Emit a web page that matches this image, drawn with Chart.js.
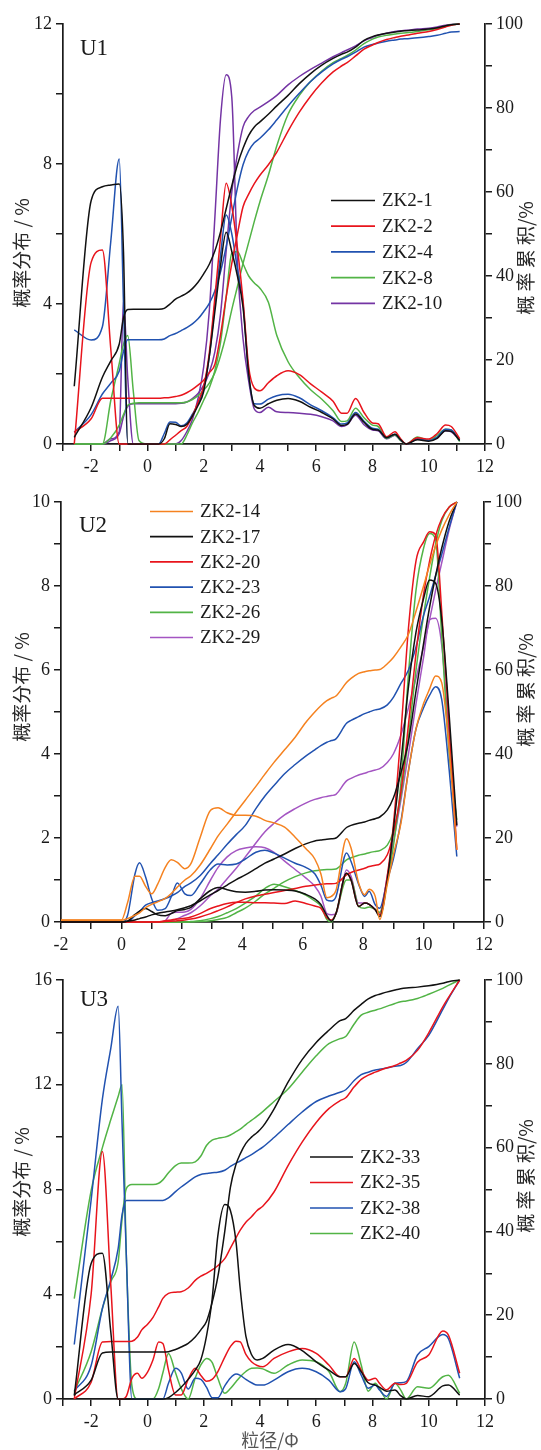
<!DOCTYPE html>
<html><head><meta charset="utf-8">
<script src="https://cdn.jsdelivr.net/npm/chart.js@4.4.1/dist/chart.umd.min.js"></script>
<style>
html,body{margin:0;padding:0;background:#fff;}
body{width:541px;height:1450px;position:relative;overflow:hidden;}
canvas{position:absolute;left:0;}
</style></head>
<body>
<canvas id="c1" width="541" height="480" style="top:0px;width:541px;height:480px"></canvas>
<canvas id="c2" width="541" height="480" style="top:480px;width:541px;height:480px"></canvas>
<canvas id="c3" width="541" height="490" style="top:960px;width:541px;height:490px"></canvas>
<script>
// ---------------- DATA ----------------
// U1 panel
const U1_X = [-2.6,-2,-1.6,-1.3,-1,-0.85,-0.7,-0.5,-0.3,0,0.4,0.6,0.8,1,1.2,1.4,1.6,1.8,2,2.2,2.4,2.6,2.8,3,3.2,3.4,3.6,3.8,4,4.3,4.6,5,5.4,5.8,6.2,6.6,6.9,7.1,7.4,7.7,8,8.2,8.5,8.8,9,9.2,9.6,10,10.3,10.6,10.8,11.1];
const ZK2_1_DIST = [1.65,6.95,7.35,7.4,7.43,5.5,0,0,0,0,0,0.15,0.58,0.56,0.5,0.56,0.8,1.1,1.5,2.5,3.8,5.1,6.05,5.5,4.8,3.9,2.0,1.1,1.02,1.15,1.25,1.3,1.22,1.05,0.9,0.72,0.53,0.56,0.86,0.62,0.42,0.4,0.18,0.28,0.12,0,0.12,0.08,0.16,0.38,0.36,0.1];
const ZK2_1_CUM = [1.6,8.7,15.9,19.8,23.8,30,32,32.1,32.1,32.1,32.1,32.3,33.3,34.5,35.2,35.9,37,38.5,40.5,42.8,46,50.5,56,61.5,66.5,70.4,73.5,75.5,76.7,78.5,80.5,83,85.8,88.2,90.2,91.8,92.8,93.3,94.5,96.1,97,97.4,97.8,98.1,98.3,98.4,98.6,98.8,99.1,99.6,99.8,100];
const ZK2_2_DIST = [0,5.19,5.54,2.7,0,0,0,0,0,0,0,0,0.12,0.25,0.38,0.5,0.8,1.2,1.65,2.6,4.2,5.9,7.45,6.8,5.6,4.1,2.2,1.6,1.52,1.75,1.95,2.09,1.98,1.72,1.48,1.22,0.88,0.88,1.3,0.9,0.6,0.58,0.21,0.35,0.15,0,0.18,0.14,0.3,0.54,0.5,0.15];
const ZK2_2_CUM = [2.8,6,10.9,10.9,10.9,10.9,10.9,10.9,10.9,10.9,10.9,11,11.1,11.3,11.6,12.2,13,14,15.2,17,19,26,35,43,50,56.5,59.5,62,64,66.5,69.5,74.5,79,82.8,86,88.6,90,90.8,92.4,94,95,95.6,96.3,96.8,97.1,97.3,97.8,98.2,98.7,99.3,99.7,100];
const ZK2_4_DIST = [3.26,2.97,3.35,5.8,8.14,4.0,0,0,0,0,0,0.3,0.63,0.62,0.52,0.6,0.85,1.15,1.6,2.5,4.0,5.4,6.54,6.0,5.0,4.0,2.0,1.15,1.14,1.28,1.38,1.42,1.32,1.12,0.95,0.75,0.57,0.6,0.9,0.65,0.45,0.42,0.18,0.28,0.12,0,0.14,0.1,0.2,0.42,0.4,0.1];
const ZK2_4_CUM = [2.8,7,11.9,14.5,17.4,22,24.8,24.8,24.8,24.8,24.8,25,25.8,26.3,27,27.7,28.6,29.8,31.5,33.5,36.5,41,47,54,61,66.5,69.8,71.7,72.8,74.8,77.2,80.5,83.5,86.3,88.6,90.5,91.6,92.2,93.3,94.5,95.1,95.5,95.9,96.2,96.4,96.5,96.7,97,97.3,97.8,98.1,98.2];
const ZK2_8_DIST = [0,0,0,1.25,2.3,2.85,3.1,1.5,0.1,0,0,0,0,0,0,0.25,0.6,0.9,1.25,1.6,2.1,2.9,4.2,5.45,5.5,5.15,4.8,4.6,4.45,4.05,3.1,2.35,1.9,1.55,1.28,0.95,0.64,0.66,1.02,0.75,0.54,0.5,0.16,0.26,0.1,0,0.2,0.1,0.25,0.42,0.4,0.07];
const ZK2_8_CUM = [0,0,0,1.5,4.5,7,9.2,9.7,9.8,9.8,9.8,9.8,9.8,9.8,9.8,10,10.6,11.5,12.8,14.5,17,21,26,32,37.5,43,48,53,57.7,64,71,78.5,83,86.3,88.8,90.8,91.8,92.5,93.8,95.3,96.4,96.9,97.3,97.6,97.8,97.9,98.2,98.6,99,99.5,99.8,100];
const ZK2_10_DIST = [0,0,0,0.15,0.35,4.1,1.9,0,0,0,0,0,0,0,0.1,0.35,0.7,1.3,2.2,3.8,6.5,9.3,10.55,9.9,5.2,3.0,1.8,1.0,0.9,1.05,0.92,0.9,0.88,0.85,0.78,0.66,0.5,0.55,0.82,0.55,0.4,0.38,0.15,0.25,0.1,0,0.15,0.1,0.18,0.38,0.35,0.1];
const ZK2_10_CUM = [0,0,0,0.8,2.5,6.5,9,9.6,9.6,9.6,9.6,9.6,9.6,9.6,9.7,10,10.8,12,14,17,22,31,46,60,69,75.5,78,79.4,80.2,81.5,83,85.5,87.5,89.2,90.7,92.2,93.2,93.8,94.8,96,96.8,97.3,97.8,98.2,98.4,98.5,98.8,99,99.3,99.7,99.9,100];

// U2 panel
const U2_X = [-2,0,0.2,0.45,0.6,0.8,1,1.2,1.45,1.65,1.85,2.1,2.3,2.6,2.95,3.2,3.5,3.8,4.1,4.45,4.75,5.05,5.4,5.75,6.1,6.4,6.6,6.8,6.95,7.1,7.45,7.6,7.85,8.05,8.2,8.4,8.55,8.8,9,9.25,9.5,9.75,10,10.2,10.4,10.6,10.85,11.1];
const ZK2_14_DIST = [0.05,0.05,0.45,1.09,1.09,0.85,0.67,0.9,1.3,1.48,1.42,1.27,1.39,2.0,2.66,2.72,2.6,2.54,2.54,2.52,2.42,2.36,2.26,2.02,1.75,1.5,1.15,0.58,0.61,0.75,1.98,1.76,0.93,0.65,0.78,0.61,0.06,0.9,1.6,2.35,3.6,4.6,5.2,5.55,5.86,5.7,4.1,1.72];
const ZK2_14_CUM = [0.4,0.4,0.8,1.6,2.2,3.4,4.2,4.8,5.6,6.8,8.3,10,11,13.5,17.5,20.5,23.3,26.2,29,32.3,35.2,38,41,44,47.5,50,51.5,52.7,53.3,53.8,57,58,59.2,59.6,59.8,60,60.1,61.5,63,65.5,68.5,74,80,85,89.5,93.3,97,100];
const ZK2_17_DIST = [0,0,0.02,0.18,0.26,0.32,0.25,0.17,0.15,0.2,0.27,0.3,0.35,0.55,0.75,0.82,0.77,0.72,0.71,0.73,0.76,0.77,0.76,0.74,0.66,0.55,0.42,0.15,0.02,0.2,1.16,1.0,0.37,0.45,0.42,0.29,0.13,1.0,2.2,3.8,5.6,6.9,7.7,8.14,8.06,7.2,4.9,2.3];
const ZK2_17_CUM = [0,0,0.2,0.5,0.8,1.2,1.7,2.1,2.4,2.6,2.9,3.4,3.9,5,6.5,7.5,8.8,10.1,11.2,12.7,14,15,16.2,17.5,18.6,19.3,19.5,19.7,19.8,20,22.5,23,23.5,23.8,24.2,24.6,25,26.7,29.5,35.5,43,55,66.3,75,82.5,89,95.5,100];
const ZK2_20_DIST = [0,0,0,0,0,0,0,0,0.03,0.05,0.07,0.09,0.12,0.2,0.32,0.38,0.44,0.47,0.47,0.46,0.46,0.45,0.44,0.5,0.44,0.38,0.33,0.1,0.05,0.2,1.16,1.0,0.37,0.45,0.42,0.29,0.17,1.1,2.3,4.5,7.0,8.6,9.05,9.29,9.22,7.4,4.6,1.72];
const ZK2_20_CUM = [0,0,0,0,0,0,0,0,0.1,0.2,0.3,0.5,0.7,1.2,2.0,2.7,3.6,4.6,5.5,6.2,6.6,7.0,7.5,8.0,8.5,8.8,9.0,9.1,9.1,9.2,11.2,11.8,12.4,12.8,13.2,13.5,13.8,16,21,31,47,64,78,86,92,96,98.8,100];
const ZK2_23_DIST = [0,0,0.15,1.15,1.41,1.07,0.56,0.28,0.32,0.6,0.93,0.67,0.63,0.9,1.25,1.38,1.36,1.38,1.5,1.66,1.71,1.64,1.52,1.4,1.3,1.15,0.88,0.52,0.5,0.6,1.64,1.44,0.9,0.61,0.73,0.41,0.33,1.0,1.5,2.4,3.6,4.6,5.1,5.4,5.6,5.3,3.6,1.56];
const ZK2_23_CUM = [0,0,0.1,1.5,2.5,4.0,4.6,5.0,5.6,6.2,7.0,8.5,9.3,11,14,16,18.5,20.8,23,27,30,32.5,35.3,37.5,39.5,41,42,42.8,43.2,43.6,47.3,48,48.9,49.6,50,50.5,50.7,51.7,53.5,56.8,60,65.5,73,77.5,82.5,87.5,94,100];
const ZK2_26_DIST = [0,0,0,0,0,0,0,0,0,0,0,0,0.01,0.03,0.08,0.13,0.22,0.32,0.45,0.62,0.8,0.9,0.84,0.75,0.64,0.5,0.38,0.06,0,0.2,1.0,1.0,0.37,0.33,0.36,0.3,0.23,1.0,1.8,3.3,5.9,7.9,8.9,9.25,9.1,6.8,4.0,2.43];
const ZK2_26_CUM = [0,0,0,0,0,0,0,0,0,0,0,0,0.05,0.1,0.3,0.6,1.1,2.2,3.3,5,6.7,8,9.6,10.8,11.7,12.2,12.4,12.5,12.5,12.6,14.8,15.3,15.9,16.2,16.5,16.8,17,18.3,21.5,30,44,60,73,82,90,95.5,98.8,100];
const ZK2_29_DIST = [0,0,0,0,0,0,0,0,0.03,0.21,0.23,0.24,0.3,0.55,1.0,1.3,1.55,1.7,1.76,1.79,1.77,1.66,1.45,1.25,1.05,0.85,0.62,0.2,0.17,0.2,1.24,1.09,0.45,0.45,0.42,0.3,0.21,1.1,1.9,2.9,4.0,5.2,6.3,7.2,7.23,6.6,4.4,2.27];
const ZK2_29_CUM = [0,0,0,0,0,0,0,0,0,0.3,0.8,1.6,2.2,3.8,6.3,7.8,10.3,12.8,15.5,18.8,21.5,23.5,25.5,27,28.3,29.2,29.6,29.9,30.1,30.4,33.6,34.2,35,35.4,35.8,36.2,36.5,38,40,44.5,51,58,65.5,72,79,85.5,93.5,100];

// U3 panel
const U3_X = [-2.6,-2,-1.6,-1.3,-1.04,-0.9,-0.75,-0.55,-0.35,-0.2,0,0.2,0.4,0.55,0.75,1,1.2,1.45,1.7,1.9,2.1,2.3,2.5,2.75,2.95,3.15,3.3,3.5,3.7,3.9,4.1,4.5,5,5.5,6,6.45,6.85,7.05,7.35,7.6,7.85,8.1,8.25,8.5,8.8,9,9.2,9.6,10,10.5,10.7,11.1];
const ZK2_33_DIST = [0.13,5.17,5.57,2.55,0,0,0,0,0,0,0,0,0,0,0.05,0.25,0.45,0.75,1.1,1.5,2.4,3.8,6.2,7.43,7.2,6.0,4.2,2.4,1.7,1.49,1.55,1.87,2.08,1.85,1.42,1.1,0.85,0.85,1.36,1.04,0.62,0.53,0.45,0.3,0.34,0.13,0,0.13,0.09,0.5,0.53,0.15];
const ZK2_33_CUM = [1.0,4.5,11,11.2,11.2,11.2,11.2,11.2,11.2,11.2,11.2,11.2,11.2,11.2,11.3,11.8,12.4,13.3,14.8,16.5,18.5,23,29,40,50.5,56,58.5,61,62.5,63.6,65,69.2,75.6,81,85.1,88,90.3,90.8,92.8,94.2,95.5,96.3,96.6,97.1,97.6,97.9,98.1,98.3,98.6,99.2,99.6,100];
const ZK2_35_DIST = [0,4.0,9.45,4.33,0,0,0.1,0.79,0.98,0.79,1.02,1.5,2.18,2.12,1.1,0.15,0.15,0.75,1.17,0.9,0.68,0.75,1.04,1.6,2.0,2.21,2.18,1.7,1.42,1.28,1.23,1.55,1.8,1.93,1.74,1.3,0.85,0.85,1.55,1.1,0.72,0.79,0.6,0.35,0.6,0.55,0.6,1.4,1.68,2.6,2.44,0.98];
const ZK2_35_CUM = [0,4,13.6,13.7,13.7,13.7,13.7,13.8,14.8,16.5,17.8,19.5,22,24,25.2,25.5,25.6,26.5,28.3,29.3,30,30.8,31.8,33.5,36,38.5,40.3,42.2,43.5,45,46,49.4,55.7,61.3,66,69.3,71.2,71.9,74.5,76.3,77.3,78,78.4,79,79.6,80.2,80.8,83.2,87.4,93.6,95.8,100];
const ZK2_38_DIST = [2.08,7.6,11.45,13.4,15.0,10.5,5.5,0,0,0,0,0,0,0,0.6,1.17,1.0,0.38,0.79,0.75,0.45,0.05,0.05,0.5,0.8,0.95,0.9,0.75,0.62,0.53,0.53,0.72,1.04,1.17,1.04,0.72,0.28,0.4,1.42,0.91,0.41,0.53,0.34,0.1,0.6,0.62,0.66,1.68,2.0,2.46,2.3,0.79];
const ZK2_38_CUM = [1.9,8,21.6,28.5,35.9,44,47.4,47.4,47.4,47.4,47.4,47.4,47.4,47.4,48,49.5,50.6,51.8,53,53.6,53.8,54,54.1,54.6,55.5,56.3,56.8,57.6,58.3,59.2,60.1,62.4,65.5,68.5,71,72.3,73.2,73.8,76,77.4,78,78.5,78.7,79,79.4,79.6,80.3,83.6,86.8,93,95.5,100];
const ZK2_40_DIST = [3.83,7.96,9.6,10.67,11.55,12.0,5.5,0.5,0,0,0,0,0.4,1.0,1.74,1.0,0.4,0,0.8,1.3,1.55,1.4,0.8,0.22,0.4,0.66,0.85,1.05,1.17,1.18,1.15,0.98,1.3,1.49,1.42,1.05,0.28,0.6,2.18,1.3,0.3,0.6,0.4,0,0.6,0.35,0,0.47,0.41,0.85,0.91,0.22];
const ZK2_40_CUM = [1.75,11.3,21.6,28,32.7,43,50.2,51.2,51.2,51.2,51.2,51.2,51.5,52.3,54,55.7,56.3,56.3,56.6,58,60.5,61.8,62.2,62.5,63,63.8,64.4,65.5,66.5,67.5,68.6,71,74,78,81.9,84.8,86,86.5,89.5,91.6,92.3,92.8,93.1,93.7,94.4,94.8,95,95.6,96.6,98,98.7,100];

// tick labels
const X_TICK_LABELS = [-2,0,2,4,6,8,10,12];
const U1_LEFT_TICK_LABELS = [0,4,8,12];
const U2_LEFT_TICK_LABELS = [0,2,4,6,8,10];
const U3_LEFT_TICK_LABELS = [0,4,8,12,16];
const RIGHT_TICK_LABELS = [0,20,40,60,80,100];

// ---------------- STYLE ----------------
const FONT_NUM = "'Liberation Serif','Times New Roman',serif";
const FONT_CJK = "'Noto Sans CJK SC','Noto Sans CJK JP',sans-serif";
const INK = '#1a1a1a';
const C_BLACK = '#111111', C_RED = '#e8141c', C_BLUE = '#2152b0', C_GREEN = '#52b446',
      C_PURPLE = '#7434a4', C_ORANGE = '#f58220', C_VIOLET = '#a455c2';

const PANELS = [
  { id:'c1', top:0, padTop:24, xH:36, leftW:63, rightW:56, xMin:-3, xMax:12,
    yMax:12, yStep:2, yLabels:U1_LEFT_TICK_LABELS, x:U1_X,
    series:[
      {name:'ZK2-1', color:C_BLACK, dist:ZK2_1_DIST, cum:ZK2_1_CUM},
      {name:'ZK2-2', color:C_RED, dist:ZK2_2_DIST, cum:ZK2_2_CUM},
      {name:'ZK2-4', color:C_BLUE, dist:ZK2_4_DIST, cum:ZK2_4_CUM},
      {name:'ZK2-8', color:C_GREEN, dist:ZK2_8_DIST, cum:ZK2_8_CUM},
      {name:'ZK2-10', color:C_PURPLE, dist:ZK2_10_DIST, cum:ZK2_10_CUM}],
    legend:{x0:331, x1:375, tx:382, y0:200.5, dy:25.7},
    tag:'U1', tagX:80, tagY:49, ltY:253, rtY:258, xTitle:false },
  { id:'c2', top:480, padTop:22, xH:38, leftW:61, rightW:57, xMin:-2, xMax:12,
    yMax:10, yStep:1, yLabels:U2_LEFT_TICK_LABELS, x:U2_X,
    series:[
      {name:'ZK2-14', color:C_ORANGE, dist:ZK2_14_DIST, cum:ZK2_14_CUM},
      {name:'ZK2-17', color:C_BLACK, dist:ZK2_17_DIST, cum:ZK2_17_CUM},
      {name:'ZK2-20', color:C_RED, dist:ZK2_20_DIST, cum:ZK2_20_CUM},
      {name:'ZK2-23', color:C_BLUE, dist:ZK2_23_DIST, cum:ZK2_23_CUM},
      {name:'ZK2-26', color:C_GREEN, dist:ZK2_26_DIST, cum:ZK2_26_CUM},
      {name:'ZK2-29', color:C_VIOLET, dist:ZK2_29_DIST, cum:ZK2_29_CUM}],
    legend:{x0:150, x1:193, tx:200, y0:511.5, dy:25.2},
    tag:'U2', tagX:79, tagY:526, ltY:687, rtY:690, xTitle:false },
  { id:'c3', top:960, padTop:20, xH:51, leftW:63, rightW:56, xMin:-3, xMax:12,
    yMax:16, yStep:2, yLabels:U3_LEFT_TICK_LABELS, x:U3_X,
    series:[
      {name:'ZK2-33', color:C_BLACK, dist:ZK2_33_DIST, cum:ZK2_33_CUM},
      {name:'ZK2-35', color:C_RED, dist:ZK2_35_DIST, cum:ZK2_35_CUM},
      {name:'ZK2-38', color:C_BLUE, dist:ZK2_38_DIST, cum:ZK2_38_CUM},
      {name:'ZK2-40', color:C_GREEN, dist:ZK2_40_DIST, cum:ZK2_40_CUM}],
    legend:{x0:310, x1:353, tx:360, y0:1157, dy:25.5},
    tag:'U3', tagX:80, tagY:1000, ltY:1182, rtY:1176, xTitle:true }
];

function rotText(ctx, txt, x, y) {
  ctx.save();
  ctx.translate(x, y);
  ctx.rotate(-Math.PI/2);
  ctx.textAlign = 'center';
  ctx.textBaseline = 'middle';
  ctx.fillText(txt, 0, 0);
  ctx.restore();
}

function makeOverlay(p) {
  return {
    id: 'overlay_' + p.id,
    afterDraw(chart) {
      const ctx = chart.ctx, T = p.top;
      ctx.save();
      // legend
      ctx.font = '19px ' + FONT_NUM;
      ctx.textAlign = 'left';
      ctx.textBaseline = 'middle';
      p.series.forEach((s, i) => {
        const y = p.legend.y0 + i * p.legend.dy - T;
        ctx.strokeStyle = s.color;
        ctx.lineWidth = 1.7;
        ctx.beginPath();
        ctx.moveTo(p.legend.x0, y);
        ctx.lineTo(p.legend.x1, y);
        ctx.stroke();
        ctx.fillStyle = INK;
        ctx.fillText(s.name, p.legend.tx, y + 1);
      });
      // panel tag
      ctx.font = '23px ' + FONT_NUM;
      ctx.fillStyle = INK;
      ctx.fillText(p.tag, p.tagX, p.tagY - T);
      // axis titles
      ctx.font = '19px ' + FONT_CJK;
      ctx.fillStyle = '#2a2a2a';
      rotText(ctx, '概率分布 / %', 22, p.ltY - T);
      rotText(ctx, '概 率 累 积/%', 526, p.rtY - T);
      if (p.xTitle) {
        ctx.font = '18px ' + FONT_CJK;
        ctx.fillStyle = '#555';
        ctx.textAlign = 'center';
        ctx.textBaseline = 'middle';
        ctx.fillText('粒径/Φ', 270, 1440 - T);
      }
      ctx.restore();
    }
  };
}

function axisBase() {
  return {
    border: { display: true, color: INK, width: 1.7 },
    grid: { display: true, drawOnChartArea: false, drawTicks: true, tickLength: 7, color: INK, lineWidth: 1.5 },
  };
}

PANELS.forEach(p => {
  const datasets = [];
  p.series.forEach(s => {
    [['y', s.dist], ['y2', s.cum]].forEach(([axis, vals]) => {
      datasets.push({
        label: s.name, yAxisID: axis,
        data: vals.map((v, i) => ({ x: p.x[i], y: v })),
        borderColor: s.color, backgroundColor: s.color,
        borderWidth: 1.5, pointRadius: 0, fill: false,
        cubicInterpolationMode: 'monotone', clip: 3
      });
    });
  });
  const tickFont = { family: FONT_NUM, size: 18 };
  new Chart(document.getElementById(p.id), {
    type: 'line',
    data: { datasets },
    options: {
      responsive: false, animation: false, devicePixelRatio: 1,
      layout: { padding: { top: p.padTop, left: 0, right: 0, bottom: 0 } },
      plugins: { legend: { display: false }, tooltip: { enabled: false } },
      scales: {
        x: Object.assign(axisBase(), {
          type: 'linear', min: p.xMin, max: p.xMax,
          ticks: { stepSize: 1, autoSkip: false, maxRotation: 0, color: INK, font: tickFont, padding: 5,
                   callback: v => X_TICK_LABELS.includes(v) ? String(v) : '' },
          afterFit: s => { s.height = p.xH; }
        }),
        y: Object.assign(axisBase(), {
          type: 'linear', position: 'left', min: 0, max: p.yMax,
          ticks: { stepSize: p.yStep, autoSkip: false, color: INK, font: tickFont, padding: 4,
                   callback: v => p.yLabels.includes(v) ? String(v) : '' },
          afterFit: s => { s.width = p.leftW; }
        }),
        y2: Object.assign(axisBase(), {
          type: 'linear', position: 'right', min: 0, max: 100,
          ticks: { stepSize: 10, autoSkip: false, color: INK, font: tickFont, padding: 4,
                   callback: v => RIGHT_TICK_LABELS.includes(v) ? String(v) : '' },
          afterFit: s => { s.width = p.rightW; }
        })
      }
    },
    plugins: [makeOverlay(p)]
  });
});
</script>
</body></html>
